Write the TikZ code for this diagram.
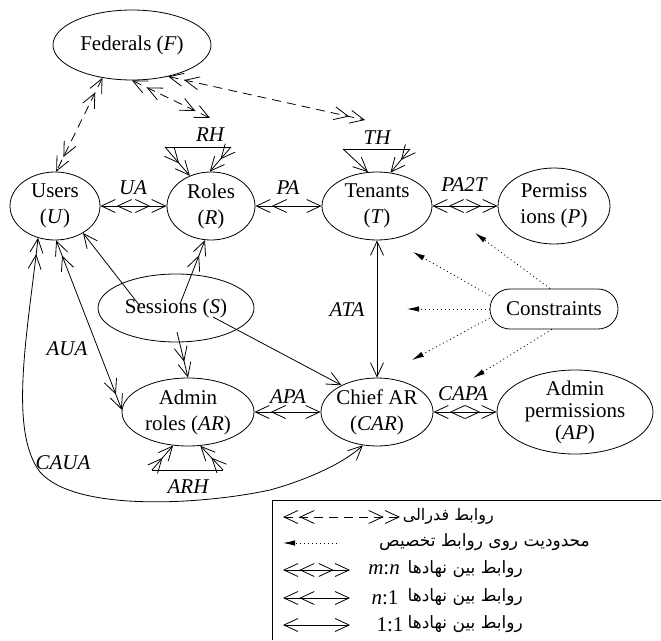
\documentclass[tikz,border=0pt]{standalone}
\usepackage{fontspec}
\setmainfont{Liberation Serif}
\newfontfamily\farsi[Script=Arabic]{DejaVu Sans}
\TeXXeTstate=1
\usetikzlibrary{arrows.meta,shapes.geometric,calc}

\tikzset{
  otip/.tip={Straight Barb[length=14pt,width=13pt]},
  mtip/.tip={Straight Barb[length=14pt,width=13pt,sep=1pt] Straight Barb[length=14pt,width=13pt]},
  ent/.style={draw, ellipse, inner sep=-10pt, align=center, line width=0.8pt},
  rel/.style={line width=0.8pt},
  fed/.style={rel, dash pattern=on 9pt off 6pt},
  cons/.style={line width=0.8pt, dash pattern=on 1pt off 3pt, -{Latex[length=12pt,width=5.5pt]}},
  lbl/.style={font=\fontsize{21}{26}\selectfont\itshape, inner sep=0pt},
  fa/.style={font=\farsi\fontsize{17}{20}\selectfont, inner sep=0pt, anchor=east},
}

\begin{document}
\begin{tikzpicture}[x=1pt, y=-1pt, font=\fontsize{21}{26}\selectfont]
\fill[white] (0,0) rectangle (661,640);
\useasboundingbox (0,0) rectangle (661,640);

% entities
\node[ent, minimum width=158pt, minimum height=70pt] (F) at (132,45) {Federals (\textit{F})};
\node[ent, minimum width=90pt, minimum height=68pt] (U) at (55,206) {Users\\(\textit{U})};
\node[ent, minimum width=88pt, minimum height=68pt] (R) at (211,206) {Roles\\(\textit{R})};
\node[ent, minimum width=110pt, minimum height=68pt] (T) at (377,206) {Tenants\\(\textit{T})};
\node[ent, minimum width=112pt, minimum height=76pt] (P) at (554,206) {Permiss\\ions (\textit{P})};
\node[ent, minimum width=156pt, minimum height=68pt] (S) at (176,308) {Sessions (\textit{S})};
\node[ent, minimum width=132pt, minimum height=68pt] (AR) at (188,412) {Admin\\roles (\textit{AR})};
\node[ent, minimum width=112pt, minimum height=68pt] (CAR) at (377,412) {Chief AR\\(\textit{CAR})};
\node[ent, minimum width=156pt, minimum height=84pt, font=\fontsize{21}{22}\selectfont] (AP) at (575,412) {Admin\\permissions\\(\textit{AP})};
\node[draw, line width=0.8pt, rounded corners=20pt, minimum width=128pt, minimum height=40pt, inner sep=0pt] (C) at (554,309) {Constraints};

% assignment relations
\draw[rel, mtip-mtip] (U.east) -- (R.west);
\draw[rel, mtip-otip] (R.east) -- (T.west);
\draw[rel, mtip-mtip] (T.east) -- (P.west);
\draw[rel, otip-otip] (T.south) -- (CAR.north);
\draw[rel, mtip-otip] (AR.east) -- (CAR.west);
\draw[rel, mtip-mtip] (CAR.east) -- (AP.west);
\draw[rel, mtip-mtip] (U.272) -- (AR.178);
\draw[rel, mtip-otip] (U.242) .. controls (28,330) and (8,430) .. (40,472)
  .. controls (75,512) and (200,505) .. (270,490)
  .. controls (310,479) and (345,462) .. (CAR.247);

% sessions
\coordinate (sU) at (140,306);
\coordinate (sR) at (180,304);
\coordinate (sA) at (177,332);
\coordinate (sC) at (213,317);
\draw[rel, -otip] (sU) -- (U.316);
\draw[rel, -mtip] (sR) -- (R.260);
\draw[rel, -mtip] (sA) -- (AR.north);
\draw[rel, -otip] (sC) -- (CAR.143);

% federation
\coordinate (fR) at (210,118);
\coordinate (fT) at (365,120);
\draw[fed, mtip-mtip] (F.228) -- (U.88);
\draw[fed, mtip-mtip] (F.270) -- (fR);
\draw[fed, mtip-mtip] (F.319) -- (fT);

% hierarchies
\coordinate (rh1) at (165,147); \coordinate (rh2) at (231,147);
\draw[rel] (rh1) -- (rh2);
\draw[rel, -mtip] (rh1) -- (R.125);
\draw[rel, -mtip] (rh2) -- (R.92);
\coordinate (th1) at (343,149); \coordinate (th2) at (410,149);
\draw[rel] (th1) -- (th2);
\draw[rel, -otip] (th1) -- (T.105);
\draw[rel, -mtip] (th2) -- (T.68);
\coordinate (ah1) at (152,470); \coordinate (ah2) at (223,470);
\draw[rel] (ah1) -- (ah2);
\draw[rel, -mtip] (ah1) -- (AR.246);
\draw[rel, -mtip] (ah2) -- (AR.290);

% relation labels
\node[lbl] (lRH) at (210,135) {RH};
\node[lbl] (lTH) at (377,138) {TH};
\node[lbl] (lUA) at (133,188) {UA};
\node[lbl] (lPA) at (288,188) {PA};
\node[lbl] (lPAT) at (464,185) {PA2T};
\node[lbl] (lATA) at (347,310) {ATA};
\node[lbl] (lAUA) at (67,349) {AUA};
\node[lbl] (lAPA) at (288,397) {APA};
\node[lbl] (lCAPA) at (463,394) {CAPA};
\node[lbl] (lCAUA) at (63,463) {CAUA};
\node[lbl] (lARH) at (188,487) {ARH};

% constraints on assignments
\coordinate (k1) at (475,233);
\coordinate (k2) at (413,252);
\coordinate (k3) at (407,309);
\coordinate (k4) at (412,360);
\coordinate (k5) at (473,378);
\draw[cons] (C.101) -- (k1);
\draw[cons] (C.168) -- (k2);
\draw[cons] (C.west) -- (k3);
\draw[cons] (C.188) -- (k4);
\draw[cons] (C.264) -- (k5);

% legend
\draw[line width=0.8pt] (661,500) -- (272,500) -- (272,640);
\coordinate (g1a) at (283,517); \coordinate (g1b) at (400,517);
\coordinate (g2a) at (283,543); \coordinate (g2b) at (337,543);
\coordinate (g3a) at (283,570); \coordinate (g3b) at (350,570);
\coordinate (g4a) at (283,598); \coordinate (g4b) at (350,598);
\coordinate (g5a) at (283,625); \coordinate (g5b) at (350,625);
\draw[fed, mtip-mtip] (g1a) -- (g1b);
\draw[cons] (g2b) -- (g2a);
\draw[rel, mtip-mtip] (g3a) -- (g3b);
\draw[rel, mtip-otip] (g4a) -- (g4b);
\draw[rel, otip-otip] (g5a) -- (g5b);
\node[fa, font=\farsi\fontsize{16}{19}\selectfont] (x1) at (494,516) {\beginR روابط فدرالی\endR};
\node[fa] (x2) at (590,542) {\beginR محدودیت روی روابط تخصیص\endR};
\node[inner sep=0pt] (m3) at (384,570) {\textit{m}:\textit{n}};
\node[fa] (x3) at (523,569) {\beginR روابط بین نهادها\endR};
\node[inner sep=0pt] (m4) at (385,598) {\textit{n}:1};
\node[fa] (x4) at (523,597) {\beginR روابط بین نهادها\endR};
\node[inner sep=0pt] (m5) at (390,625) {1:1};
\node[fa] (x5) at (523,624) {\beginR روابط بین نهادها\endR};
\end{tikzpicture}
\end{document}
